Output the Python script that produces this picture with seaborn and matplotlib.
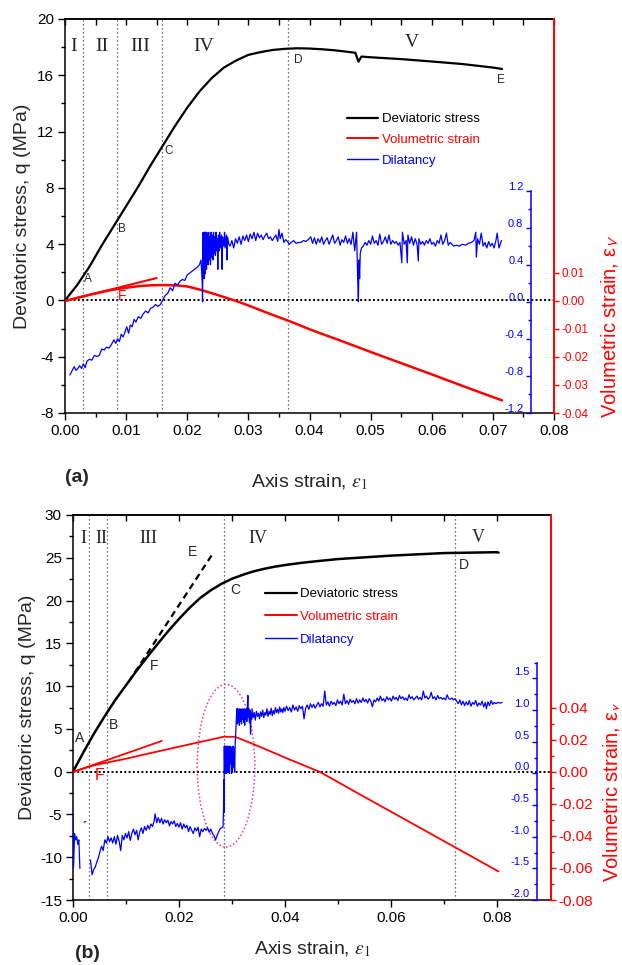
import numpy as np
import pandas as pd
import matplotlib
matplotlib.use("Agg")
import matplotlib.pyplot as plt
import matplotlib.transforms as mtransforms
import seaborn as sns
from matplotlib.patches import Ellipse
from matplotlib.lines import Line2D
from matplotlib.ticker import MultipleLocator, FixedLocator, FormatStrFormatter

# ---------------- panel (a) data ----------------
xa_q = [0, 0.002, 0.004, 0.006, 0.008, 0.010, 0.012, 0.014, 0.016, 0.018, 0.020, 0.022,
        0.024, 0.026, 0.028, 0.030, 0.032, 0.034, 0.036, 0.038, 0.040, 0.042, 0.044, 0.046,
        0.0475, 0.0480, 0.0485, 0.050, 0.055, 0.060, 0.065, 0.070, 0.0715]
qa = [0, 1.1, 2.4, 3.9, 5.3, 6.7, 8.1, 9.6, 11.0, 12.4, 13.7, 14.85,
      15.8, 16.55, 17.05, 17.45, 17.65, 17.8, 17.88, 17.92, 17.9, 17.85, 17.78, 17.68,
      17.6, 16.97, 17.33, 17.28, 17.15, 16.98, 16.8, 16.55, 16.45]

xa_ev = [0, 0.002, 0.004, 0.006, 0.008, 0.010, 0.012, 0.014, 0.016, 0.018, 0.020, 0.022,
         0.024, 0.026, 0.028, 0.030, 0.032, 0.034, 0.036, 0.038, 0.040, 0.045, 0.050,
         0.055, 0.060, 0.065, 0.070, 0.0715]
eva = [0, 0.0011, 0.0022, 0.0032, 0.0041, 0.0047, 0.0053, 0.0056, 0.0057, 0.0056, 0.0052,
       0.0041, 0.0028, 0.0014, 0.0000, -0.0016, -0.0033, -0.0050, -0.0066, -0.0083, -0.0101,
       -0.0141, -0.0182, -0.0222, -0.0262, -0.0303, -0.0343, -0.0355]
xa_tan = [0.0, 0.015]
eva_tan = [0.0, 0.0082]

# dilatancy (a), in pieces
xa_d1 = [0.0008, 0.0012, 0.0015, 0.0018, 0.0021, 0.0024, 0.0027, 0.0030, 0.0033, 0.0036,
         0.0040, 0.0044, 0.0048, 0.0052, 0.0056, 0.0060, 0.0064, 0.0068, 0.0072, 0.0076,
         0.0080, 0.0083, 0.0086, 0.0089, 0.0092, 0.0095, 0.0098, 0.0101, 0.0104, 0.0107,
         0.0110, 0.0113, 0.0116, 0.0120, 0.0124, 0.0128, 0.0132, 0.0136, 0.0140, 0.0144,
         0.0148, 0.0152, 0.0156, 0.0160, 0.0164, 0.0168, 0.0172, 0.0176, 0.0180, 0.0184,
         0.0188, 0.0192, 0.0196, 0.0200, 0.0204, 0.0208, 0.0212, 0.0216, 0.0220]
ya_d1 = [-0.79, -0.74, -0.70, -0.74, -0.72, -0.69, -0.72, -0.67, -0.71, -0.64,
         -0.62, -0.63, -0.58, -0.59, -0.58, -0.51, -0.52, -0.49, -0.50, -0.46,
         -0.41, -0.45, -0.40, -0.43, -0.35, -0.38, -0.33, -0.27, -0.34, -0.25,
         -0.27, -0.19, -0.22, -0.16, -0.18, -0.13, -0.10, -0.12, -0.07, -0.06,
         -0.03, -0.05, -0.03, 0.02, 0.07, 0.09, 0.15, 0.12, 0.20, 0.18,
         0.22, 0.24, 0.23, 0.29, 0.31, 0.33, 0.35, 0.37, 0.40]
xa_d2 = [0.02225, 0.02245, 0.02250, 0.02255, 0.02260, 0.02265, 0.02270, 0.02275, 0.02280, 0.02285,
         0.02290, 0.02295, 0.02300, 0.02305, 0.02310, 0.02315, 0.02320, 0.02325, 0.02330, 0.02340,
         0.02350, 0.02360, 0.02370, 0.02380, 0.02390, 0.02400, 0.02410, 0.02420, 0.02430, 0.02440,
         0.02450, 0.02460, 0.02470, 0.02480, 0.02490, 0.02500, 0.02510, 0.02520, 0.02530, 0.02540,
         0.02560, 0.02570, 0.02580, 0.02600, 0.02610, 0.02620, 0.02640, 0.02650, 0.02660, 0.02680]
ya_d2 = [0.45, 0.20, 0.00, 0.35, 0.75, 0.30, 0.70, 0.25, 0.75, 0.35,
         0.72, 0.30, 0.75, 0.38, 0.70, 0.35, 0.75, 0.42, 0.72, 0.40,
         0.75, 0.45, 0.70, 0.40, 0.75, 0.48, 0.72, 0.45, 0.75, 0.52,
         0.70, 0.50, 0.75, 0.55, 0.68, 0.35, 0.72, 0.55, 0.75, 0.58,
         0.72, 0.35, 0.70, 0.60, 0.75, 0.58, 0.72, 0.45, 0.70, 0.62]
xa_d3 = [0.0270, 0.0273, 0.0276, 0.0279, 0.0282, 0.0285, 0.0288, 0.0291, 0.0294, 0.0297,
         0.0300, 0.0303, 0.0306, 0.0309, 0.0312, 0.0315, 0.0318, 0.0321, 0.0324, 0.0327,
         0.0330, 0.0333, 0.0336, 0.0339, 0.0342, 0.0345, 0.0348, 0.0350, 0.0352, 0.0355,
         0.0358, 0.0361, 0.0364, 0.0367, 0.0370, 0.0374, 0.0378, 0.0382]
ya_d3 = [0.60, 0.66, 0.58, 0.68, 0.63, 0.70, 0.62, 0.71, 0.66, 0.72,
         0.65, 0.73, 0.68, 0.75, 0.66, 0.74, 0.69, 0.72, 0.67, 0.71,
         0.74, 0.68, 0.70, 0.66, 0.69, 0.72, 0.65, 0.78, 0.68, 0.74,
         0.64, 0.67, 0.65, 0.62, 0.64, 0.66, 0.63, 0.64]
xa_d4 = [0.0386, 0.0390, 0.0394, 0.0398, 0.0402, 0.0405, 0.0408, 0.0411, 0.0414, 0.0417,
         0.0420, 0.0423, 0.0426, 0.0429, 0.0432, 0.0435, 0.0438, 0.0441, 0.0444, 0.0447,
         0.0450, 0.0453, 0.0456, 0.0459, 0.0462, 0.0465, 0.0468, 0.0471, 0.0474, 0.0477,
         0.0479, 0.0480, 0.0481, 0.0482, 0.0483, 0.0485, 0.0488, 0.0491, 0.0494, 0.0497,
         0.0500, 0.0503, 0.0506, 0.0509, 0.0512, 0.0515, 0.0518, 0.0521, 0.0524, 0.0527,
         0.0530, 0.0533, 0.0536, 0.0539, 0.0542, 0.0545, 0.0548, 0.0551, 0.0552, 0.0555,
         0.0558, 0.0560, 0.0561, 0.0564, 0.0567, 0.0570, 0.0573, 0.0576, 0.0578, 0.0579,
         0.0582, 0.0585, 0.0588, 0.0591, 0.0594, 0.0597, 0.0600, 0.0603, 0.0606, 0.0609,
         0.0612, 0.0615, 0.0618, 0.0621, 0.0624, 0.0627, 0.0630, 0.0633, 0.0636, 0.0640,
         0.0645, 0.0650, 0.0655, 0.0660, 0.0665, 0.0669, 0.0672, 0.0673, 0.0675, 0.0678,
         0.0681, 0.0684, 0.0687, 0.0690, 0.0693, 0.0696, 0.0699, 0.0702, 0.0705, 0.0707,
         0.0710, 0.0712, 0.0714]
ya_d4 = [0.64, 0.66, 0.65, 0.67, 0.70, 0.63, 0.69, 0.62, 0.68, 0.64,
         0.70, 0.62, 0.66, 0.69, 0.62, 0.67, 0.72, 0.63, 0.66, 0.70,
         0.61, 0.67, 0.64, 0.71, 0.63, 0.68, 0.62, 0.75, 0.55, 0.75,
         0.20, 0.00, 0.45, 0.25, 0.52, 0.58, 0.60, 0.64, 0.61, 0.66,
         0.62, 0.71, 0.63, 0.66, 0.61, 0.73, 0.62, 0.65, 0.70, 0.63,
         0.72, 0.62, 0.66, 0.63, 0.65, 0.61, 0.64, 0.42, 0.75, 0.62,
         0.66, 0.42, 0.72, 0.63, 0.70, 0.61, 0.68, 0.62, 0.44, 0.68,
         0.62, 0.65, 0.61, 0.66, 0.63, 0.68, 0.62, 0.64, 0.60, 0.66,
         0.63, 0.72, 0.62, 0.66, 0.74, 0.61, 0.64, 0.62, 0.60, 0.61,
         0.60, 0.62, 0.61, 0.63, 0.64, 0.66, 0.75, 0.48, 0.68, 0.62,
         0.74, 0.60, 0.64, 0.58, 0.65, 0.60, 0.63, 0.58, 0.66, 0.74,
         0.58, 0.62, 0.66]

# ---------------- panel (b) data ----------------
xb_q = [0, 0.002, 0.004, 0.006, 0.008, 0.010, 0.012, 0.014, 0.016, 0.018, 0.020, 0.022,
        0.024, 0.026, 0.028, 0.030, 0.032, 0.034, 0.036, 0.038, 0.040, 0.043, 0.046,
        0.050, 0.055, 0.060, 0.065, 0.070, 0.075, 0.080, 0.0803]
qb = [0, 2.3, 4.5, 6.5, 8.4, 10.1, 11.8, 13.4, 14.95, 16.45, 17.85, 19.15,
      20.3, 21.2, 21.95, 22.55, 23.0, 23.4, 23.7, 23.95, 24.15, 24.4, 24.6,
      24.85, 25.05, 25.25, 25.4, 25.55, 25.6, 25.65, 25.6]
xb_dash = [0.0105, 0.0265]
qb_dash = [10.5, 25.6]

xb_ev = [0, 0.002, 0.004, 0.006, 0.010, 0.015, 0.020, 0.025, 0.0284, 0.0306, 0.033,
         0.036, 0.040, 0.0466, 0.050, 0.055, 0.060, 0.065, 0.070, 0.075, 0.0803]
evb = [0, 0.0022, 0.0042, 0.0056, 0.0083, 0.0121, 0.0158, 0.0195, 0.0220, 0.0220, 0.0188,
       0.0147, 0.0090, 0.0, -0.0063, -0.0156, -0.0248, -0.0340, -0.0432, -0.0524, -0.0622]
xb_tan = [0.0, 0.01675]
evb_tan = [0.0, 0.0194]

xb_d1 = [0.0000, 0.0001, 0.0003, 0.0005, 0.0007, 0.0009, 0.0011, 0.0013, np.nan, 0.0021, 0.0024, np.nan]
yb_d1 = [-0.65, -1.49, -0.95, -1.05, -1.00, -1.12, -1.05, -1.50, np.nan, -0.77, -0.76, np.nan]
xb_d2 = [0.0033, 0.0036, 0.0039, 0.0042, 0.0045, 0.0048, 0.0051, 0.0054, 0.0057, 0.0060,
         0.0063, 0.0066, 0.0069, 0.0072, 0.0075, 0.0078, 0.0081, 0.0084, 0.0087, 0.0090,
         0.0093, 0.0096, 0.0099, 0.0102, 0.0105, 0.0108, 0.0111, 0.0114, 0.0117, 0.0120,
         0.0123, 0.0126, 0.0129, 0.0132, 0.0135, 0.0138, 0.0141, 0.0144, 0.0147, 0.0150,
         0.0153, 0.0155, 0.0158, 0.0161, 0.0164, 0.0167, 0.0170, 0.0173, 0.0176, 0.0179,
         0.0182, 0.0185, 0.0188, 0.0191, 0.0194, 0.0197, 0.0200, 0.0203, 0.0206, 0.0209,
         0.0212, 0.0215, 0.0218, 0.0221, 0.0224, 0.0227, 0.0230, 0.0233, 0.0236, 0.0239,
         0.0242, 0.0245, 0.0248, 0.0251, 0.0254, 0.0257, 0.0260, 0.0263, 0.0266, 0.0269,
         0.0272, 0.0275, 0.0278, 0.0281, 0.0283]
yb_d2 = [-1.37, -1.60, -1.52, -1.48, -1.40, -1.33, -1.23, -1.15, -1.22, -1.05,
         -1.10, -1.00, -1.08, -1.02, -1.10, -1.00, -1.12, -0.98, -1.07, -1.22,
         -0.98, -1.05, -0.95, -1.02, -0.92, -1.06, -0.95, -0.88, -0.97, -0.90,
         -1.05, -0.92, -0.86, -0.95, -0.84, -0.90, -0.82, -0.88, -0.80, -0.84,
         -0.76, -0.64, -0.78, -0.70, -0.78, -0.71, -0.80, -0.73, -0.78, -0.74,
         -0.83, -0.76, -0.80, -0.75, -0.84, -0.79, -0.85, -0.78, -0.88, -0.80,
         -0.86, -0.82, -0.92, -0.84, -0.90, -0.95, -0.86, -0.91, -0.85, -1.00,
         -0.88, -0.92, -0.87, -0.90, -0.86, -0.93, -0.88, -0.95, -0.98, -1.05,
         -0.98, -0.92, -0.87, -0.86, -0.85]
xb_d3 = [0.02840, 0.02845, 0.02850, 0.02855, 0.02860, 0.02865, 0.02870, 0.02875, 0.02880, 0.02885,
         0.02890, 0.02895, 0.02900, 0.02905, 0.02910, 0.02915, 0.02920, 0.02925, 0.02930, 0.02940,
         0.02950, 0.02960, 0.02970, 0.02980, 0.02990, 0.03000, 0.03010, 0.03020, 0.03030, 0.03040,
         0.03050, 0.03060]
yb_d3 = [-0.60, -0.10, -0.62, 0.43, 0.00, 0.43, 0.02, 0.40, 0.00, 0.43,
         0.05, 0.38, 0.00, 0.43, 0.10, 0.40, 0.02, 0.43, 0.05, 0.38,
         0.00, 0.43, 0.15, 0.42, 0.00, 0.35, 0.05, 0.43, 0.10, 0.40,
         0.02, 0.45]
xb_d4 = [0.0307, 0.0308, 0.0309, 0.0310, 0.0311, 0.0312, 0.0313, 0.0314, 0.0315, 0.0316,
         0.0317, 0.0318, 0.0319, 0.0320, 0.0321, 0.0322, 0.0323, 0.0324, 0.0325, 0.0326,
         0.0327, 0.0328, 0.0329, 0.0330, 0.0331, 0.0332, 0.0333, 0.0334, 0.0335, 0.0336,
         0.0337, 0.0338]
yb_d4 = [0.62, 0.80, 1.02, 0.78, 1.02, 0.80, 1.00, 0.76, 1.02, 0.82,
         1.00, 0.78, 1.02, 0.85, 1.00, 0.80, 1.02, 0.76, 1.00, 0.86,
         1.02, 0.82, 1.05, 1.23, 0.88, 1.02, 0.80, 1.00, 0.62, 0.95,
         0.85, 1.02]
xb_d5 = [0.0340, 0.0342, 0.0344, 0.0346, 0.0348, 0.0350, 0.0352, 0.0354, 0.0356, 0.0358,
         0.0360, 0.0362, 0.0364, 0.0366, 0.0368, 0.0370, 0.0372, 0.0374, 0.0376, 0.0378,
         0.0380, 0.0382, 0.0384, 0.0386, 0.0388, 0.0390, 0.0392, 0.0394, 0.0396, 0.0398,
         0.0400, 0.0403, 0.0406, 0.0409, 0.0412, 0.0415, 0.0418, 0.0421, 0.0424, 0.0427,
         0.0430, 0.0433, 0.0436, 0.0439, 0.0442, 0.0445, 0.0448, 0.0451, 0.0454, 0.0457,
         0.0460, 0.0463, 0.0466, 0.0469, 0.0472, 0.0475, 0.0478, 0.0481, 0.0484, 0.0487,
         0.0490, 0.0493, 0.0496, 0.0499, 0.0502, 0.0505, 0.0508, 0.0511, 0.0514, 0.0517,
         0.0520, 0.0523, 0.0526, 0.0529, 0.0532, 0.0535, 0.0538, 0.0541, 0.0544, 0.0547,
         0.0550, 0.0553, 0.0556, 0.0559, 0.0562, 0.0565, 0.0568, 0.0571, 0.0574, 0.0577,
         0.0580, 0.0583, 0.0586, 0.0589, 0.0592, 0.0595, 0.0598, 0.0601, 0.0604, 0.0607,
         0.0610, 0.0613, 0.0616, 0.0619, 0.0622, 0.0625, 0.0628, 0.0631, 0.0634, 0.0637,
         0.0640, 0.0643, 0.0646, 0.0649, 0.0652, 0.0655, 0.0658, 0.0661, 0.0664, 0.0667,
         0.0670, 0.0673, 0.0676, 0.0679, 0.0682, 0.0685, 0.0688, 0.0691, 0.0694, 0.0697,
         0.0700, 0.0703, 0.0706, 0.0709, 0.0712, 0.0715, 0.0718, 0.0721, 0.0724, 0.0727,
         0.0730, 0.0733, 0.0736, 0.0739, 0.0742, 0.0745, 0.0748, 0.0751, 0.0754, 0.0757,
         0.0760, 0.0763, 0.0766, 0.0769, 0.0772, 0.0775, 0.0778, 0.0780, 0.0783, 0.0786,
         0.0789, 0.0792, 0.0795, 0.0798, 0.0802, 0.0806, 0.0810]
yb_d5 = [0.88, 0.96, 0.84, 0.98, 0.90, 0.95, 0.86, 0.97, 0.90, 1.00,
         0.88, 0.96, 0.92, 1.02, 0.90, 0.98, 0.93, 1.03, 0.91, 0.99,
         0.94, 1.04, 0.96, 1.01, 0.95, 1.05, 0.97, 1.02, 0.96, 1.04,
         0.98, 1.06, 0.99, 1.04, 0.97, 1.08, 1.00, 1.05, 0.98, 1.07,
         1.02, 1.06, 0.86, 1.03, 1.08, 1.01, 1.10, 1.04, 1.09, 1.03,
         1.08, 1.12, 1.05, 1.10, 1.06, 1.30, 1.08, 1.13, 1.06, 1.14,
         1.09, 1.12, 1.07, 1.16, 1.10, 1.14, 1.08, 1.25, 1.10, 1.15,
         1.09, 1.17, 1.12, 1.15, 1.10, 1.18, 1.11, 1.16, 1.12, 1.19,
         1.13, 1.17, 1.11, 1.18, 1.14, 1.05, 1.16, 1.13, 1.19, 1.14,
         1.22, 1.15, 1.18, 1.13, 1.21, 1.16, 1.19, 1.14, 1.22, 1.17,
         1.20, 1.15, 1.23, 1.18, 1.21, 1.16, 1.19, 1.15, 1.24, 1.18,
         1.21, 1.16, 1.19, 1.22, 1.17, 1.20, 1.16, 1.30, 1.19, 1.22,
         1.17, 1.20, 1.28, 1.18, 1.21, 1.16, 1.23, 1.18, 1.20, 1.17,
         1.19, 1.16, 1.24, 1.18, 1.17, 1.19, 1.16, 1.18, 1.14, 1.10,
         1.16, 1.08, 1.14, 1.07, 1.13, 1.08, 1.15, 1.06, 1.12, 1.09,
         1.15, 1.06, 1.11, 1.08, 1.14, 1.05, 1.12, 1.02, 1.13, 1.07,
         1.15, 1.09, 1.12, 1.10, 1.12, 1.11, 1.12]

# stage boundaries, stage names, point labels
stage_a = [0.0029, 0.0085, 0.0159, 0.0365]
stage_b = [0.0031, 0.0065, 0.0284, 0.0721]
roman_a = [("I", 0.0014, 18.05), ("II", 0.0061, 18.05), ("III", 0.0123, 18.05),
           ("IV", 0.0227, 18.05), ("V", 0.0568, 18.3)]
roman_b = [("I", 0.0019, 27.3), ("II", 0.0054, 27.3), ("III", 0.0142, 27.3),
           ("IV", 0.0348, 27.3), ("V", 0.0764, 27.4)]
pts_a = [("A", 0.0038, 1.5), ("B", 0.0093, 5.1), ("C", 0.0169, 10.6),
         ("D", 0.0381, 17.1), ("E", 0.0713, 15.7)]
pts_b = [("A", 0.0013, 3.9), ("B", 0.0076, 5.5), ("C", 0.0306, 21.2),
         ("D", 0.0737, 24.15), ("E", 0.0226, 25.7), ("F", 0.0153, 12.4)]

sns.set_theme(style="ticks")
plt.rcParams["font.family"] = ["Liberation Sans", "DejaVu Sans"]
plt.rcParams["mathtext.fontset"] = "stix"
plt.rcParams["axes.unicode_minus"] = False

fig = plt.figure(figsize=(6.22, 9.65), dpi=100)
fig.patch.set_facecolor("white")


def make_panel(rect, xlim, ylim, rlim, blim, bpos, bbounds):
    ax = fig.add_axes(rect)
    axr = ax.twinx()
    axb = ax.twinx()
    ax.set_xlim(*xlim)
    ax.set_ylim(*ylim)
    axr.set_ylim(*rlim)
    axb.set_ylim(*blim)
    ax.spines["right"].set_visible(False)
    for s in ["top", "bottom", "left"]:
        ax.spines[s].set_color("black")
        ax.spines[s].set_linewidth(1.1)
    for s in ["top", "bottom", "left"]:
        axr.spines[s].set_visible(False)
    axr.spines["right"].set_color("red")
    axr.spines["right"].set_linewidth(1.4)
    for s in ["top", "bottom", "right"]:
        axb.spines[s].set_visible(False)
    axb.spines["left"].set_visible(True)
    axb.spines["left"].set_position(("axes", bpos))
    axb.spines["left"].set_bounds(*bbounds)
    axb.spines["left"].set_color("blue")
    axb.spines["left"].set_linewidth(1.1)
    axb.yaxis.set_ticks_position("left")
    ax.tick_params(axis="both", which="major", direction="out", length=5, width=1,
                   colors="black", labelsize=11, pad=3)
    ax.tick_params(axis="both", which="minor", direction="out", length=3, width=1, colors="black")
    axr.tick_params(axis="y", which="both", direction="out", colors="red", width=1)
    axr.tick_params(axis="y", which="major", length=3.5, pad=2)
    axr.tick_params(axis="y", which="minor", length=2)
    axb.tick_params(axis="y", which="both", direction="out", colors="blue", width=1)
    axb.tick_params(axis="y", which="major", length=3.5, labelsize=8, pad=2)
    axb.tick_params(axis="y", which="minor", length=2)
    for a in (ax, axr, axb):
        a.set_facecolor("none")
    ax.set_facecolor("white")
    return ax, axr, axb


def blue_line(axb, xs, ys):
    d = pd.DataFrame({"x": xs, "y": ys})
    d["seg"] = d["y"].isna().cumsum()
    d = d.dropna()
    sns.lineplot(data=d, x="x", y="y", units="seg", estimator=None, sort=False,
                 color="blue", lw=0.9, ax=axb, legend=False)


def finish(ax, axr, axb, top_ticks, stages, romans, rsize):
    ax.axhline(0, color="black", ls=(0, (1, 1.2)), lw=1.4, zorder=1)
    for xv in stages:
        ax.axvline(xv, color="#444444", ls=(0, (1, 2.2)), lw=0.9, zorder=1)
    for t, xx, yy in romans:
        ax.text(xx, yy, t, family=["Liberation Serif", "DejaVu Serif"], fontsize=rsize,
                ha="center", va="center")
    sec = ax.secondary_xaxis("top")
    sec.set_xticks(top_ticks)
    sec.tick_params(axis="x", direction="in", length=4.5, width=1, labeltop=False,
                    colors="black")
    sec.spines["top"].set_linewidth(1.1)
    sec.spines["top"].set_color("black")
    ax.set_xlabel("")
    ax.set_ylabel("")
    axr.set_ylabel("")
    axb.set_ylabel("")


# ---------------- panel (a) ----------------
axA, axAr, axAb = make_panel([65 / 622, 1 - 413 / 965, 489 / 622, 394 / 965],
                             (0, 0.08), (-8, 20), (-0.04, 0.1007), (-1.2, 3.05), 0.953, (-1.2, 1.2))
sns.lineplot(x=xa_q, y=qa, ax=axA, color="black", lw=1.6, estimator=None, sort=False)
sns.lineplot(x=xa_ev, y=eva, ax=axAr, color="red", lw=1.8, estimator=None, sort=False)
sns.lineplot(x=xa_tan, y=eva_tan, ax=axAr, color="red", lw=1.5, estimator=None, sort=False)
blue_line(axAb, xa_d1 + xa_d2 + xa_d3 + xa_d4, ya_d1 + ya_d2 + ya_d3 + ya_d4)

axA.xaxis.set_major_locator(MultipleLocator(0.01))
axA.xaxis.set_minor_locator(MultipleLocator(0.005))
axA.xaxis.set_major_formatter(FormatStrFormatter("%.2f"))
axA.yaxis.set_major_locator(MultipleLocator(4))
axA.yaxis.set_minor_locator(MultipleLocator(2))
axA.yaxis.set_major_formatter(FormatStrFormatter("%d"))
axAr.yaxis.set_major_locator(FixedLocator([-0.04, -0.03, -0.02, -0.01, 0.0, 0.01]))
axAr.yaxis.set_major_formatter(FormatStrFormatter("%.2f"))
axAr.tick_params(axis="y", labelsize=8.5)
axAb.yaxis.set_major_locator(FixedLocator([-1.2, -0.8, -0.4, 0.0, 0.4, 0.8, 1.2]))
axAb.yaxis.set_minor_locator(FixedLocator([-1.0, -0.6, -0.2, 0.2, 0.6, 1.0]))
axAb.yaxis.set_major_formatter(FormatStrFormatter("%.1f"))

finish(axA, axAr, axAb, np.arange(0, 0.0801, 0.005), stage_a, roman_a, 14)
for t, xx, yy in pts_a:
    axA.text(xx, yy, t, fontsize=8.5, ha="center", va="center")
axA.text(0.0093, 0.3, "F", fontsize=10, color="red", ha="center", va="center")

axA.set_ylabel("Deviatoric stress, q (MPa)", fontsize=14)
axA.yaxis.set_label_coords(-0.07, 0.5)
axA.set_xlabel(r"Axis strain, $\varepsilon_1$", fontsize=14)
axA.xaxis.set_label_coords(0.5, -0.15)
axAr.set_ylabel(r"Volumetric strain, ε$_\mathsf{V}$", fontsize=14.5, color="red")
axAr.yaxis.set_label_coords(1.094, 0.221)
fig.text(77 / 622, 1 - 477 / 965, "(a)", fontsize=14, fontweight="bold", ha="center", va="center")

# ---------------- panel (b) ----------------
axB, axBr, axBb = make_panel([73 / 622, 1 - 900 / 965, 478 / 622, 385 / 965],
                             (0, 0.0902), (-15, 30), (-0.08, 0.1606), (-2.0, 4.08), 0.971, (-2.0, 1.75))
sns.lineplot(x=xb_q, y=qb, ax=axB, color="black", lw=1.8, estimator=None, sort=False)
sns.lineplot(x=xb_dash, y=qb_dash, ax=axB, color="black", lw=1.6, ls=(0, (3, 2)),
             estimator=None, sort=False)
sns.lineplot(x=xb_ev, y=evb, ax=axBr, color="red", lw=1.3, estimator=None, sort=False)
sns.lineplot(x=xb_tan, y=evb_tan, ax=axBr, color="red", lw=1.3, estimator=None, sort=False)
blue_line(axBb, xb_d1 + xb_d2 + xb_d3 + xb_d4 + xb_d5, yb_d1 + yb_d2 + yb_d3 + yb_d4 + yb_d5)

axB.xaxis.set_major_locator(FixedLocator([0, 0.02, 0.04, 0.06, 0.08]))
axB.xaxis.set_minor_locator(FixedLocator([0.01, 0.03, 0.05, 0.07]))
axB.xaxis.set_major_formatter(FormatStrFormatter("%.2f"))
axB.yaxis.set_major_locator(MultipleLocator(5))
axB.yaxis.set_minor_locator(MultipleLocator(2.5))
axB.yaxis.set_major_formatter(FormatStrFormatter("%d"))
axBr.yaxis.set_major_locator(FixedLocator([-0.08, -0.06, -0.04, -0.02, 0.0, 0.02, 0.04]))
axBr.yaxis.set_minor_locator(FixedLocator([-0.07, -0.05, -0.03, -0.01, 0.01, 0.03]))
axBr.yaxis.set_major_formatter(FormatStrFormatter("%.2f"))
axBr.tick_params(axis="y", labelsize=11)
axBb.yaxis.set_major_locator(FixedLocator([-2.0, -1.5, -1.0, -0.5, 0.0, 0.5, 1.0, 1.5]))
axBb.yaxis.set_minor_locator(FixedLocator([-1.75, -1.25, -0.75, -0.25, 0.25, 0.75, 1.25, 1.75]))
axBb.yaxis.set_major_formatter(FormatStrFormatter("%.1f"))

finish(axB, axBr, axBb, np.arange(0, 0.0801, 0.01), stage_b, roman_b, 13)
for t, xx, yy in pts_b:
    axB.text(xx, yy, t, fontsize=10, ha="center", va="center")
axB.text(0.0051, -0.45, "F", fontsize=11.5, color="red", ha="center", va="center")
axB.add_patch(Ellipse((0.02887, 0.7), width=0.01088, height=19.0, fill=False,
                      ec="#f0309a", ls=(0, (1, 1.5)), lw=1.1, zorder=5))

axB.set_ylabel("Deviatoric stress, q (MPa)", fontsize=14)
axB.yaxis.set_label_coords(-0.077, 0.5)
axB.set_xlabel(r"Axis strain, $\varepsilon_1$", fontsize=14)
axB.xaxis.set_label_coords(0.5, -0.104)
axBr.set_ylabel(r"Volumetric strain, ε$_\mathsf{v}$", fontsize=14.5, color="red")
axBr.yaxis.set_label_coords(1.106, 0.281)
fig.text(87 / 622, 1 - 953 / 965, "(b)", fontsize=14, fontweight="bold", ha="center", va="center")


# legends
def legend_handles():
    return [Line2D([], [], color="black", lw=1.6, label="Deviatoric stress"),
            Line2D([], [], color="red", lw=1.4, label="Volumetric strain"),
            Line2D([], [], color="blue", lw=1.0, label="Dilatancy")]


axAb.legend(handles=legend_handles(), loc="upper left", bbox_to_anchor=(346.7 / 622, 1 - 113 / 965),
            bbox_transform=fig.transFigure, frameon=False, fontsize=9.5, handlelength=2.4,
            handletextpad=0.25, labelspacing=0.65, borderpad=0, borderaxespad=0,
            labelcolor="linecolor")
axBb.legend(handles=legend_handles(), loc="upper left", bbox_to_anchor=(265 / 622, 1 - 588 / 965),
            bbox_transform=fig.transFigure, frameon=False, fontsize=9.5, handlelength=2.4,
            handletextpad=0.25, labelspacing=0.8, borderpad=0, borderaxespad=0,
            labelcolor="linecolor")

# blue tick labels sit a bit above their ticks
for axb_, dy in ((axAb, 0.05), (axBb, 0.07)):
    off = mtransforms.ScaledTranslation(0, dy, fig.dpi_scale_trans)
    for lab in axb_.get_yticklabels():
        lab.set_transform(lab.get_transform() + off)

fig.savefig("out.png", dpi=100, facecolor="white")
